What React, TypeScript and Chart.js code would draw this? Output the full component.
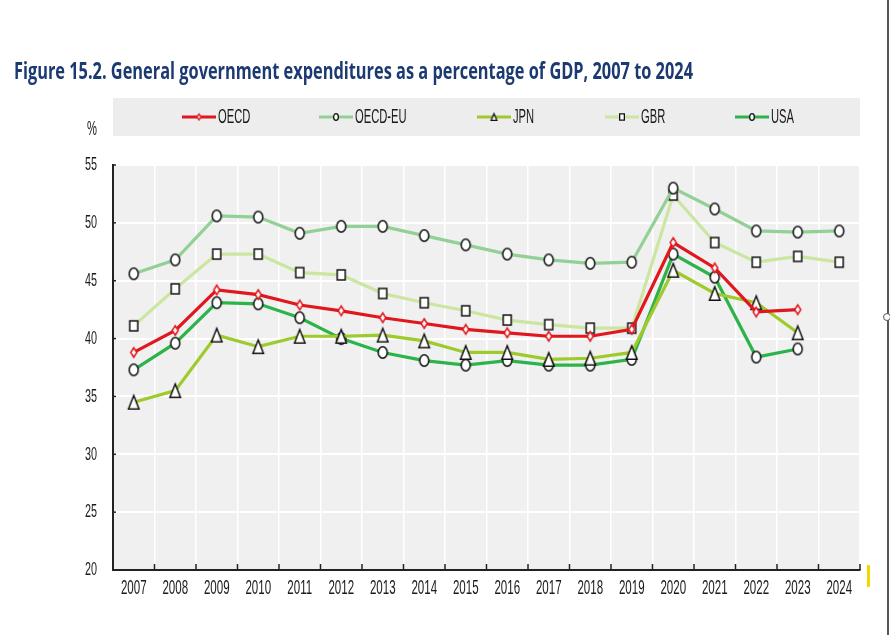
import React, { useEffect, useRef } from "react";
import { Chart, registerables } from "chart.js";

Chart.register(...registerables);

const years = ["2007","2008","2009","2010","2011","2012","2013","2014","2015","2016","2017","2018","2019","2020","2021","2022","2023","2024"];
const oecd = [38.8, 40.7, 44.2, 43.8, 42.9, 42.4, 41.8, 41.3, 40.8, 40.5, 40.2, 40.2, 40.8, 48.3, 46.1, 42.3, 42.5, null];
const oecdEu = [45.6, 46.8, 50.6, 50.5, 49.1, 49.7, 49.7, 48.9, 48.1, 47.3, 46.8, 46.5, 46.6, 53.0, 51.2, 49.3, 49.2, 49.3];
const jpn = [34.5, 35.5, 40.3, 39.3, 40.2, 40.2, 40.3, 39.8, 38.8, 38.8, 38.2, 38.3, 38.8, 45.9, 43.9, 43.1, 40.5, null];
const gbr = [41.1, 44.3, 47.3, 47.3, 45.7, 45.5, 43.9, 43.1, 42.4, 41.6, 41.2, 40.9, 40.9, 52.4, 48.3, 46.6, 47.1, 46.6];
const usa = [37.3, 39.6, 43.1, 43.0, 41.8, 40.0, 38.8, 38.1, 37.7, 38.1, 37.7, 37.7, 38.2, 47.3, 45.3, 38.4, 39.1, null];
const yTicks = [20, 25, 30, 35, 40, 45, 50, 55];
const seriesLabels = ["OECD", "OECD-EU", "JPN", "GBR", "USA"];
const seriesColors = ["#e1171e", "#93d095", "#9fca2c", "#cbe6a0", "#2db34a"];
const seriesShapes = ["diamond", "circle", "triangle", "square", "circle"];
const seriesData = [oecd, oecdEu, jpn, gbr, usa];

const SANS = "'Liberation Sans', Arial, sans-serif";
const TITLE_FONT = "'Open Sans', 'Noto Sans', sans-serif";
const titleText = "Figure 15.2. General government expenditures as a percentage of GDP, 2007 to 2024";
const TEXT_COLOR = "#1a1a1a";

function makeMarker(shape: string, w: number, h: number, stroke: string, lw: number) {
  const pad = 2;
  const c = document.createElement("canvas");
  c.width = Math.ceil(w + pad * 2);
  c.height = Math.ceil(h + pad * 2);
  const ctx = c.getContext("2d")!;
  const cx = c.width / 2;
  const cy = c.height / 2;
  const hw = (w - lw) / 2;
  const hh = (h - lw) / 2;
  ctx.beginPath();
  if (shape === "circle") {
    ctx.ellipse(cx, cy, hw, hh, 0, 0, Math.PI * 2);
  } else if (shape === "square") {
    ctx.rect(cx - hw, cy - hh, hw * 2, hh * 2);
  } else if (shape === "triangle") {
    ctx.moveTo(cx, cy - hh);
    ctx.lineTo(cx + hw, cy + hh);
    ctx.lineTo(cx - hw, cy + hh);
    ctx.closePath();
  } else {
    ctx.moveTo(cx, cy - hh);
    ctx.lineTo(cx + hw, cy);
    ctx.lineTo(cx, cy + hh);
    ctx.lineTo(cx - hw, cy);
    ctx.closePath();
  }
  ctx.fillStyle = "#ffffff";
  ctx.fill();
  ctx.strokeStyle = stroke;
  ctx.lineWidth = lw;
  ctx.lineJoin = "miter";
  ctx.stroke();
  return c;
}

const markerSize: Record<string, [number, number]> = {
  circle: [10.5, 13],
  square: [9.5, 11.5],
  triangle: [12, 15],
  diamond: [7.5, 11],
};
const legendMarkerSize: Record<string, [number, number]> = {
  circle: [6, 8],
  square: [6, 7.5],
  triangle: [7, 8],
  diamond: [5, 7.5],
};

function narrowText(ctx: CanvasRenderingContext2D, text: string, x: number, y: number, align: "left" | "right" | "center", font: string, color: string, sx: number) {
  ctx.save();
  ctx.font = font;
  ctx.fillStyle = color;
  ctx.textBaseline = "middle";
  ctx.textAlign = "left";
  const w = ctx.measureText(text).width * sx;
  let left = x;
  if (align === "right") left = x - w;
  else if (align === "center") left = x - w / 2;
  ctx.translate(left, y);
  ctx.scale(sx, 1);
  ctx.fillText(text, 0, 0);
  ctx.restore();
}

const legendX = [182, 319, 477, 605, 735];

const decorPlugin = {
  id: "decor",
  beforeDraw(chart: any) {
    const { ctx, chartArea, scales } = chart;
    ctx.save();
    ctx.fillStyle = "#ffffff";
    ctx.fillRect(0, 0, chart.width, chart.height);
    ctx.fillStyle = "#f0f0f0";
    ctx.fillRect(chartArea.left, chartArea.top, chartArea.right - chartArea.left, chartArea.bottom - chartArea.top);
    ctx.font = `bold 23px ${TITLE_FONT}`;
    const tw = ctx.measureText(titleText).width;
    narrowText(ctx, titleText, 14, 72, "left", `bold 23px ${TITLE_FONT}`, "#1c3a72", 679 / tw);
    ctx.fillStyle = "#ededed";
    ctx.fillRect(chartArea.left, 98, chartArea.right - chartArea.left, 38);
    narrowText(ctx, "%", 92, 129, "center", `20px ${SANS}`, TEXT_COLOR, 0.56);
    chart.data.datasets.forEach((ds: any, i: number) => {
      const x0 = legendX[i];
      const y = 117;
      ctx.strokeStyle = ds.borderColor;
      ctx.lineWidth = 3;
      ctx.beginPath();
      ctx.moveTo(x0, y);
      ctx.lineTo(x0 + 34, y);
      ctx.stroke();
      const shape = seriesShapes[i];
      const [w, h] = legendMarkerSize[shape];
      const m = makeMarker(shape, w, h, i === 0 ? seriesColors[0] : "#111", 1.3);
      ctx.drawImage(m, x0 + 17 - m.width / 2, y - m.height / 2);
      narrowText(ctx, ds.label, x0 + 36, y, "left", `20px ${SANS}`, TEXT_COLOR, 0.56);
    });
    const xs = scales.x;
    years.forEach((yr, i) => {
      narrowText(ctx, yr, xs.getPixelForTick(i), 588, "center", `21px ${SANS}`, TEXT_COLOR, 0.55);
    });
    const ys = scales.y;
    yTicks.forEach((v) => {
      narrowText(ctx, String(v), chartArea.left - 16, ys.getPixelForValue(v), "right", `19px ${SANS}`, TEXT_COLOR, 0.57);
    });
    ctx.fillStyle = "#f5d800";
    ctx.fillRect(867, 565, 3, 22);
    ctx.restore();
  },
  beforeDatasetsDraw(chart: any) {
    const { ctx, chartArea, scales } = chart;
    const xs = scales.x;
    ctx.save();
    ctx.strokeStyle = "#222";
    ctx.lineWidth = 1.5;
    const n = years.length;
    const step = xs.getPixelForTick(1) - xs.getPixelForTick(0);
    for (let i = 0; i <= n; i++) {
      const px = i < n ? xs.getPixelForTick(i) - step / 2 : chartArea.right;
      ctx.beginPath();
      ctx.moveTo(px, chartArea.bottom);
      ctx.lineTo(px, chartArea.bottom - 6);
      ctx.stroke();
    }
    const ys = scales.y;
    yTicks.forEach((v) => {
      const py = ys.getPixelForValue(v);
      ctx.beginPath();
      ctx.moveTo(chartArea.left, py);
      ctx.lineTo(chartArea.left + 3, py);
      ctx.stroke();
    });
    ctx.restore();
  },
};

export default function App() {
  const ref = useRef<HTMLCanvasElement>(null);
  useEffect(() => {
    if (!ref.current) return;
    const chart = new Chart(ref.current, {
      type: "line",
      data: {
        labels: years,
        datasets: seriesLabels.map((label, i) => {
          const shape = seriesShapes[i];
          const [w, h] = markerSize[shape];
          return {
            label,
            data: seriesData[i],
            borderColor: seriesColors[i],
            backgroundColor: "#ffffff",
            borderWidth: 3.2,
            pointStyle: makeMarker(shape, w, h, i === 0 ? seriesColors[0] : "#111", 1.5) as any,
            pointRadius: 6,
            tension: 0,
            spanGaps: false,
          };
        }),
      },
      options: {
        animation: false,
        responsive: false,
        devicePixelRatio: 1,
        layout: { padding: { top: 165, right: 30, left: 0, bottom: 0 } },
        plugins: { legend: { display: false }, title: { display: false }, tooltip: { enabled: false } },
        scales: {
          x: {
            offset: true,
            grid: { offset: true, color: "#ffffff", lineWidth: 1.5, drawTicks: false },
            border: { color: "#222", width: 2 },
            ticks: { display: false, autoSkip: false },
            afterFit: (s: any) => { s.height = 65; },
          },
          y: {
            min: 20,
            max: 55,
            afterBuildTicks: (s: any) => { s.ticks = yTicks.map((v) => ({ value: v })); },
            grid: { color: "#ffffff", lineWidth: 2, drawTicks: false },
            border: { color: "#222", width: 2 },
            ticks: { display: false },
            afterFit: (s: any) => { s.width = 113; },
          },
        },
      },
      plugins: [decorPlugin],
    });
    return () => chart.destroy();
  }, []);
  return (
    <div style={{ position: "absolute", left: 0, top: 0, width: 890, height: 635, background: "#fff" }}>
      <canvas ref={ref} width={890} height={635} style={{ width: 890, height: 635, display: "block" }} />
      <div style={{ position: "absolute", left: 887, top: 0, width: 2, height: 635, background: "#555" }} />
      <div style={{ position: "absolute", left: 883, top: 313, width: 8, height: 8, borderRadius: "50%", border: "1px solid #555", background: "#fff", boxSizing: "border-box" }} />
    </div>
  );
}
